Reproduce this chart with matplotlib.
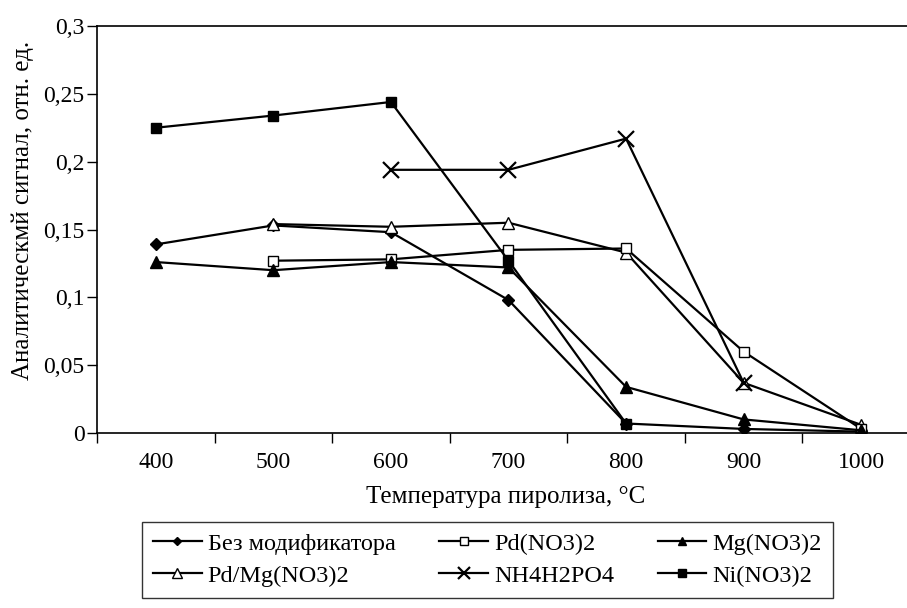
import matplotlib
matplotlib.use("Agg")
import matplotlib.pyplot as plt
import numpy as np

plt.rcParams["font.family"] = ["Liberation Serif", "DejaVu Serif"]

temps = ["400", "500", "600", "700", "800", "900", "1000"]
nan = np.nan

no_mod = [0.139, 0.153, 0.148, 0.098, 0.007, 0.003, 0.001]
pd_no3 = [nan, 0.127, 0.128, 0.135, 0.136, 0.060, 0.003]
mg_no3 = [0.126, 0.120, 0.126, 0.122, 0.034, 0.010, 0.002]
pd_mg = [nan, 0.154, 0.152, 0.155, 0.133, 0.037, 0.006]
nh4 = [nan, nan, 0.194, 0.194, 0.217, 0.037, nan]
ni_no3 = [0.225, 0.234, 0.244, 0.127, 0.007, nan, nan]

W, H = 907, 608
fig = plt.figure(figsize=(W / 100, H / 100), dpi=100)
ax = fig.add_axes([97 / W, 1 - 433 / H, 823 / W, 407 / H])

x = np.arange(len(temps))
lw = 1.6
series = [
    ("Без модификатора", no_mod, dict(marker="D", ms=6, mfc="black", mec="black")),
    ("Pd/Mg(NO3)2", pd_mg, dict(marker="^", ms=9, mfc="white", mec="black")),
    ("Pd(NO3)2", pd_no3, dict(marker="s", ms=7, mfc="white", mec="black")),
    ("NH4H2PO4", nh4, dict(marker="x", ms=12, mew=1.6, mec="black")),
    ("Mg(NO3)2", mg_no3, dict(marker="^", ms=8, mfc="black", mec="black")),
    ("Ni(NO3)2", ni_no3, dict(marker="s", ms=7, mfc="black", mec="black")),
]
for label, vals, style in series:
    ax.plot(x, vals, color="black", lw=lw, label=label, **style)

ax.set_xlim(-0.5, 6.5)
ax.set_ylim(0, 0.3)
ax.set_xticks(x)
ax.set_xticklabels(temps)
ax.set_xticks(np.arange(-0.5, 7, 1), minor=True)
ax.tick_params(axis="x", which="major", length=0, pad=14)
ax.tick_params(axis="x", which="minor", length=7, direction="out", width=1)
ax.tick_params(axis="y", length=7, direction="out", width=1, pad=2)
ax.tick_params(labelsize=17)
yt = [0, 0.05, 0.1, 0.15, 0.2, 0.25, 0.3]
ax.set_yticks(yt)
ax.set_yticklabels(["0", "0,05", "0,1", "0,15", "0,2", "0,25", "0,3"])
ax.spines["right"].set_visible(False)
for s in ["left", "bottom", "top"]:
    ax.spines[s].set_linewidth(1.2)

ax.set_xlabel("Температура пиролиза, °С", fontsize=18)
ax.xaxis.set_label_coords((506 - 97) / 823, -(486 - 433) / 407)
ax.set_ylabel("Аналитическмй сигнал, отн. ед.", fontsize=18)
ax.yaxis.set_label_coords(-(97 - 34) / 823, (433 - 210) / 407)

leg = fig.legend(loc="upper left", bbox_to_anchor=(142 / W, 1 - 522 / H), ncol=3,
                 fontsize=17.5, frameon=True, fancybox=False, edgecolor="black",
                 handlelength=2.0, handletextpad=0.25, columnspacing=1.8,
                 labelspacing=0.4, markerscale=0.75, borderpad=0.45,
                 borderaxespad=0)
leg.get_frame().set_linewidth(1.0)

fig.savefig("out.png", dpi=100)
